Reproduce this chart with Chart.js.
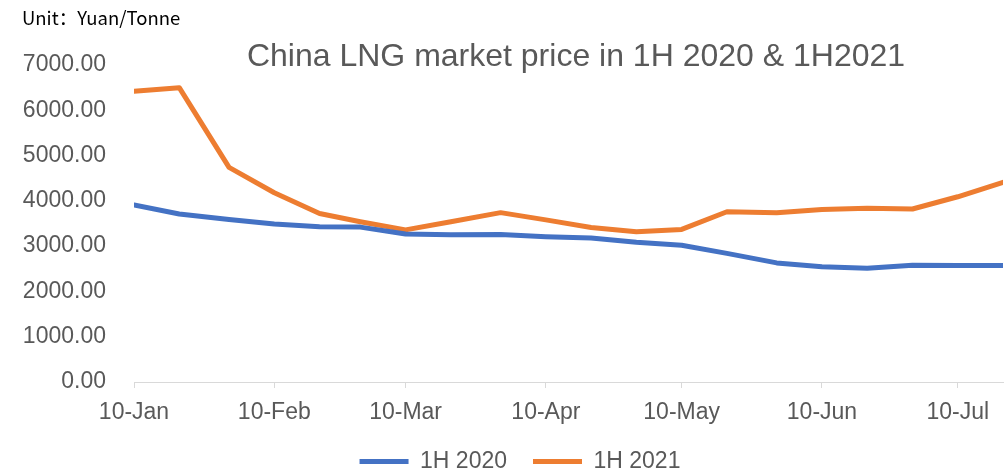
<!DOCTYPE html>
<html>
<head>
<meta charset="utf-8">
<script src="https://cdn.jsdelivr.net/npm/chart.js@4/dist/chart.umd.min.js"></script>
<style>
  html, body { margin: 0; padding: 0; background: #fff; }
  #wrap { width: 1004px; height: 472px; overflow: hidden; position: relative; }
</style>
</head>
<body>
<div id="wrap"><canvas id="grafico" width="1004" height="483"></canvas></div>
<script>
// dates of the readings (shown on a shared day axis)
const pointDates = [
  "2020-01-10", "2020-01-20", "2020-01-31", "2020-02-10", "2020-02-20", "2020-02-29",
  "2020-03-10", "2020-03-20", "2020-03-31", "2020-04-10", "2020-04-20", "2020-04-30",
  "2020-05-10", "2020-05-20", "2020-05-31", "2020-06-10", "2020-06-20", "2020-06-30",
  "2020-07-10", "2020-07-20"
];
const tickDates = ["2020-01-10", "2020-02-10", "2020-03-10", "2020-04-10", "2020-05-10", "2020-06-10", "2020-07-10"];
const tickLabels = ["10-Jan", "10-Feb", "10-Mar", "10-Apr", "10-May", "10-Jun", "10-Jul"];

const serie2020 = [3910, 3710, 3590, 3490, 3430, 3420, 3270, 3250, 3255, 3210, 3180, 3085,
                   3020, 2840, 2630, 2545, 2510, 2580, 2570, 2570];
const serie2021 = [6420, 6500, 4740, 4180, 3720, 3540, 3360, 3540, 3740, 3580, 3410, 3320,
                   3370, 3760, 3740, 3810, 3835, 3820, 4090, 4410];

const yTicks = [0, 1000, 2000, 3000, 4000, 5000, 6000, 7000];

const titulo = "China LNG market price in 1H 2020 & 1H2021";
const unidade = "Unit：Yuan/Tonne";

function diaDoAno(str) {
  const [a, m, d] = str.split("-").map(Number);
  return (Date.UTC(a, m - 1, d) - Date.UTC(2020, 0, 10)) / 86400000;
}

const pointDays = pointDates.map(diaDoAno);
const tickDays = tickDates.map(diaDoAno);

// título e unidade desenhados por cima
const textos = {
  id: "textos",
  afterLayout(chart) {
    // legenda um pouco à direita, como no original
    chart.legend.left += 7;
    chart.legend.right += 7;
  },
  afterDraw(chart) {
    const ctx = chart.ctx;
    ctx.save();
    ctx.fillStyle = "#595959";
    ctx.font = "32px 'Liberation Sans', Arial, sans-serif";
    ctx.textAlign = "center";
    ctx.textBaseline = "middle";
    ctx.fillText(titulo, 576, 57);
    ctx.fillStyle = "#000";
    ctx.font = "18.5px 'Noto Sans CJK SC', 'Noto Sans', sans-serif";
    ctx.textAlign = "left";
    ctx.fillText(unidade, 22, 18);
    ctx.restore();
  }
};

const ctx = document.getElementById("grafico").getContext("2d");
new Chart(ctx, {
  type: "line",
  data: {
    datasets: [
      {
        label: "1H 2020",
        data: pointDays.map((d, i) => ({ x: d, y: serie2020[i] })),
        borderColor: "#4472C4",
        backgroundColor: "#4472C4",
        borderWidth: 5,
        borderCapStyle: "round",
        borderJoinStyle: "round",
        pointRadius: 0,
        tension: 0
      },
      {
        label: "1H 2021",
        data: pointDays.map((d, i) => ({ x: d, y: serie2021[i] })),
        borderColor: "#ED7D31",
        backgroundColor: "#ED7D31",
        borderWidth: 5,
        borderCapStyle: "round",
        borderJoinStyle: "round",
        pointRadius: 0,
        tension: 0
      }
    ]
  },
  options: {
    responsive: false,
    animation: false,
    layout: { autoPadding: false, padding: { left: 23, right: 1, top: 65, bottom: 0 } },
    plugins: {
      legend: {
        position: "bottom",
        labels: {
          usePointStyle: true,
          pointStyle: "line",
          pointStyleWidth: 49,
          padding: 26,
          color: "#595959",
          font: { size: 23, family: "'Liberation Sans', Arial, sans-serif" }
        }
      },
      tooltip: { enabled: false }
    },
    scales: {
      x: {
        type: "linear",
        min: 0,
        max: 192,
        afterBuildTicks: (scale) => { scale.ticks = tickDays.map(v => ({ value: v })); },
        afterFit: (scale) => { scale.height = 42; },
        ticks: {
          padding: 11,
          color: "#595959",
          maxRotation: 0,
          autoSkip: false,
          font: { size: 23, family: "'Liberation Sans', Arial, sans-serif" },
          callback: (v) => tickLabels[tickDays.indexOf(v)]
        },
        grid: { display: true, drawOnChartArea: false, drawTicks: true, tickLength: 6, color: "#d9d9d9" },
        border: { color: "#d9d9d9", width: 1 }
      },
      y: {
        min: 0,
        max: 7000,
        afterBuildTicks: (scale) => { scale.ticks = yTicks.map(v => ({ value: v })); },
        afterFit: (scale) => { scale.width = 111; },
        ticks: {
          padding: 28,
          color: "#595959",
          font: { size: 23, family: "'Liberation Sans', Arial, sans-serif" },
          callback: (v) => v.toFixed(2)
        },
        grid: { display: false, drawTicks: false },
        border: { display: false }
      }
    }
  },
  plugins: [textos]
});
</script>
</body>
</html>
